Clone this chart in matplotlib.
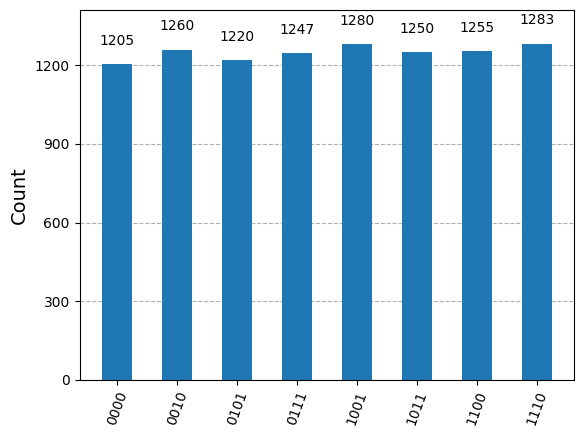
import matplotlib
matplotlib.use("Agg")
import matplotlib.pyplot as plt
import numpy as np

states = ["0000", "0010", "0101", "0111", "1001", "1011", "1100", "1110"]
counts = [1205, 1260, 1220, 1247, 1280, 1250, 1255, 1283]
yticks = [0, 300, 600, 900, 1200]

fig = plt.figure(figsize=(5.85, 4.37), dpi=100)
ax = fig.add_axes([0.136, 0.131, 0.846, 0.846])
x = np.arange(len(states))
bars = ax.bar(x, counts, width=0.5, color="#1f77b4")
for rect, c in zip(bars, counts):
    ax.text(rect.get_x() + rect.get_width() / 2, 1.05 * c, str(c),
            ha="center", va="bottom", fontsize=10)
ax.set_xticks(x)
ax.set_xticklabels(states, rotation=70, fontsize=10)
ax.set_yticks(yticks)
ax.tick_params(axis="y", labelsize=10)
ax.set_ylim(0, max(counts) * 1.1)
ax.set_ylabel("Count", fontsize=14)
ax.yaxis.grid(True, linestyle="--")
ax.set_axisbelow(True)
fig.savefig("out.png", dpi=100)
